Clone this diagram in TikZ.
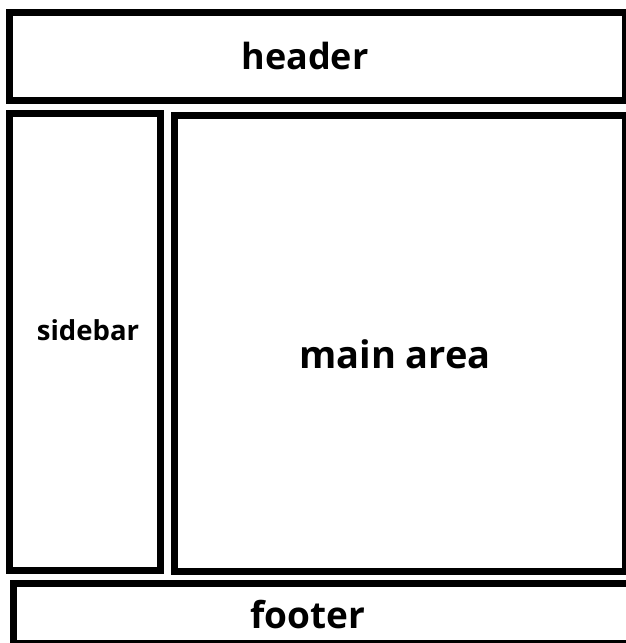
\documentclass[tikz,border=0pt]{standalone}
\usepackage{fontspec}
\setmainfont{Open Sans}
\usetikzlibrary{positioning}

\begin{document}
\begin{tikzpicture}[
  x=1pt, y=-1pt,
  panel/.style={draw, line width=7pt, fill=white, inner sep=0pt},
  lab/.style={font=\fontsize{36}{40}\selectfont\bfseries},
  smalllab/.style={font=\fontsize{27.5}{30}\selectfont\bfseries}
]
\useasboundingbox (0,0) rectangle (626,643);
\clip (0,0) rectangle (626,643);

% layout boxes
\node[panel, minimum width=616pt, minimum height=88pt] (header) at (317.5,56.5) {};
\node[panel, minimum width=150.5pt, minimum height=457pt] (sidebar) at (84.75,342) {};
\node[panel, minimum width=451pt, minimum height=456pt] (main) at (400,343) {};
\node[panel, minimum width=618.5pt, minimum height=60pt] (footer) at (322.75,613.5) {};

% labels
\node[lab] (headertxt) at (305,56) {header};
\node[smalllab] (sidebartxt) at (88,330) {sidebar};
\node[lab, font=\fontsize{38}{42}\selectfont\bfseries] (maintxt) at (395,354) {main area};
\node[lab, font=\fontsize{37}{42}\selectfont\bfseries] (footertxt) at (308,615) {footer};
\end{tikzpicture}
\end{document}
